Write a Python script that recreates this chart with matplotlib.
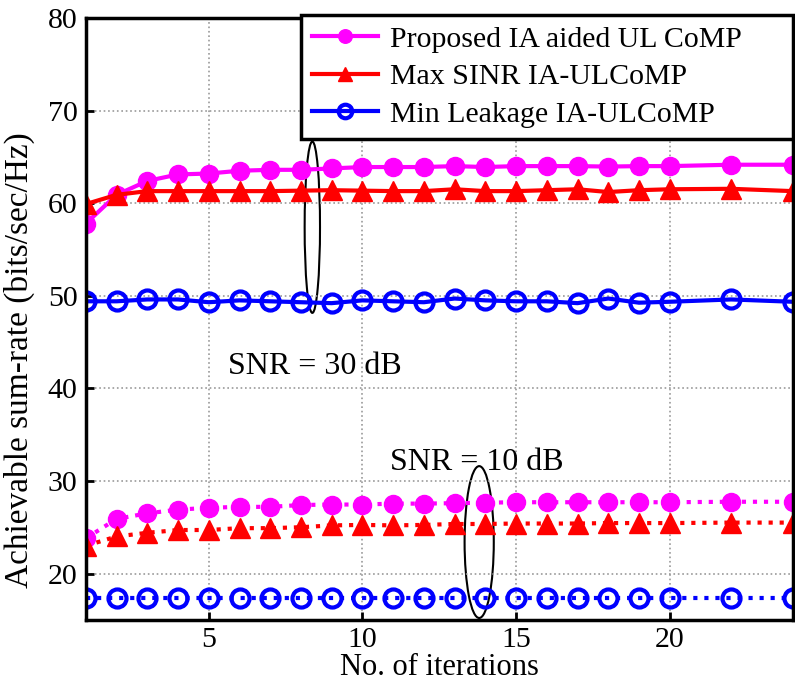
import numpy as np
import matplotlib
matplotlib.use("Agg")
from matplotlib import pyplot as plt
from matplotlib.patches import Ellipse

# iteration indices where markers were plotted
iters = [1, 2, 3, 4, 5, 6, 7, 8, 9, 10, 11, 12, 13, 14, 15, 16, 17, 18, 19, 20, 22, 24]

# SNR = 30 dB
prop_30 = [57.8, 60.9, 62.4, 63.1, 63.2, 63.5, 63.6, 63.6, 63.75, 63.9, 63.9, 63.9,
           64.0, 63.9, 64.0, 64.0, 64.0, 63.95, 64.0, 64.0, 64.15, 64.15]
maxsinr_30 = [59.9, 60.9, 61.3, 61.3, 61.3, 61.3, 61.3, 61.35, 61.4, 61.35, 61.3, 61.3,
              61.5, 61.3, 61.3, 61.4, 61.5, 61.2, 61.4, 61.5, 61.55, 61.3]
minleak_30 = [49.4, 49.4, 49.6, 49.6, 49.3, 49.5, 49.4, 49.3, 49.2, 49.5, 49.4, 49.3,
              49.7, 49.5, 49.4, 49.4, 49.2, 49.7, 49.25, 49.35, 49.6, 49.35]

# SNR = 10 dB
prop_10 = [23.8, 25.9, 26.5, 26.9, 27.1, 27.2, 27.2, 27.4, 27.45, 27.45, 27.55, 27.55,
           27.6, 27.65, 27.7, 27.7, 27.7, 27.7, 27.7, 27.7, 27.75, 27.75]
maxsinr_10 = [23.0, 24.0, 24.4, 24.7, 24.7, 24.9, 24.9, 25.0, 25.2, 25.25, 25.2, 25.25,
              25.35, 25.35, 25.4, 25.4, 25.4, 25.45, 25.45, 25.45, 25.5, 25.5]
minleak_10 = [17.4] * len(iters)

labels = ["Proposed IA aided UL CoMP", "Max SINR IA-ULCoMP", "Min Leakage IA-ULCoMP"]

plt.rcParams['font.family'] = ['Liberation Serif', 'DejaVu Serif']

fig = plt.figure(figsize=(7.95, 6.91), dpi=100)
ax = fig.add_axes([0.108, 0.103, 0.889, 0.871])

lw = 3.0
styles = [
    dict(color='magenta', marker='o', markersize=13, markerfacecolor='magenta'),
    dict(color='red', marker='^', markersize=14, markerfacecolor='red'),
    dict(color='blue', marker='o', markersize=13, markerfacecolor='none',
         markeredgewidth=3),
]

for y, lab, st in zip([prop_30, maxsinr_30, minleak_30], labels, styles):
    ax.plot(iters, y, '-', linewidth=lw, label=lab, **st)
for y, st in zip([prop_10, maxsinr_10, minleak_10], styles):
    ax.plot(iters, y, ':', linewidth=lw, **st)

ax.set_xlim(1, 24)
ax.set_ylim(15, 80)
ax.set_xticks([5, 10, 15, 20])
ax.set_yticks([20, 30, 40, 50, 60, 70, 80])
ax.grid(True, linestyle=':', color='#999999', linewidth=1.2)
ax.tick_params(labelsize=21.5, direction='in', length=6, width=2)
ax.tick_params(axis='x', pad=5)
ax.tick_params(axis='y', pad=6)
for sp in ax.spines.values():
    sp.set_linewidth(2.5)

ax.set_xlabel("No. of iterations", fontsize=22, labelpad=0)
ax.set_ylabel("Achievable sum-rate (bits/sec/Hz)", fontsize=24)
ax.yaxis.set_label_coords(-0.072, 0.432)

# annotations
ax.add_patch(Ellipse((8.37, 57.4), 0.5, 18.5, fill=False, edgecolor='black', linewidth=1.5))
ax.text(5.62, 42.4, "SNR = 30 dB", fontsize=23, va='center', ha='left')
ax.add_patch(Ellipse((13.8, 23.4), 0.95, 16.4, fill=False, edgecolor='black', linewidth=1.5))
ax.text(10.9, 32.0, "SNR = 10 dB", fontsize=23, va='center', ha='left')

leg = ax.legend(loc='upper right', bbox_to_anchor=(0.305, 0.5, 0.695, 0.505),
                mode='expand', fontsize=21.5,
                fancybox=False, framealpha=1, edgecolor='black', borderaxespad=0,
                handlelength=2.2, labelspacing=0.36, borderpad=0.36,
                handletextpad=0.4, markerscale=0.75)
leg.get_frame().set_linewidth(2.5)

fig.savefig("out.png", dpi=100)
